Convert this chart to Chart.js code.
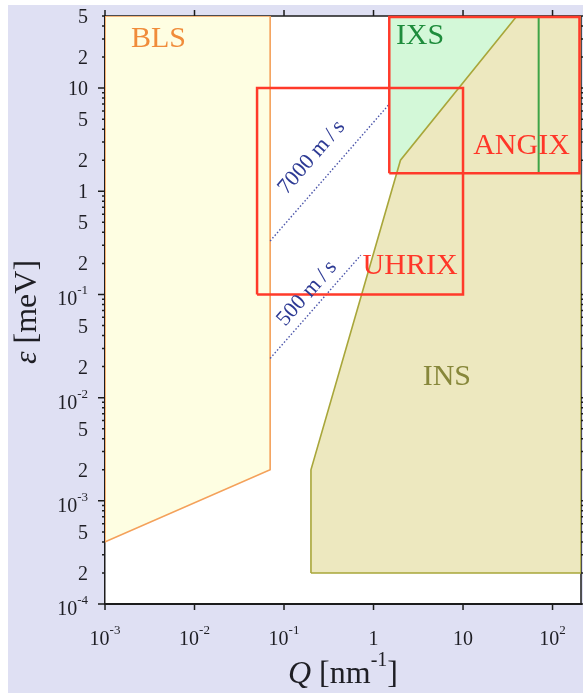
<!DOCTYPE html>
<html>
<head>
<meta charset="utf-8">
<script src="https://cdn.jsdelivr.net/npm/chart.js@4/dist/chart.umd.min.js"></script>
<style>
  html, body { margin: 0; padding: 0; background: #ffffff; }
  canvas { display: block; }
</style>
</head>
<body>
<canvas id="map" width="583" height="693"></canvas>
<script>
// Axis ranges: momentum transfer Q [nm^-1] and energy transfer ε [meV]
const qRange = [1e-3, 208];
const epsRange = [1e-4, 50];

// Brillouin light scattering
const blsQ   = [1e-3, 0.07, 0.07, 1e-3];
const blsEps = [50, 50, 2e-3, 4e-4];

// Inelastic neutron scattering
const insQ   = [0.2, 0.2, 2, 40, 208, 208];
const insEps = [2e-4, 2e-3, 2, 50, 50, 2e-4];

// Inelastic x-ray scattering
const ixsQ   = [1.5, 1.5, 70, 70];
const ixsEps = [1.5, 50, 50, 1.5];
const ixsEdgeQ   = [70, 70];
const ixsEdgeEps = [1.5, 50];

// UHRIX and ANGIX spectrometer windows
const uhrixQ   = [0.05, 10, 10, 0.05];
const uhrixEps = [0.1, 0.1, 10, 10];
const angixQ   = [1.5, 200, 200, 1.5];
const angixEps = [1.5, 1.5, 49, 49];

// Sound-velocity lines
const v7000Q   = [0.07, 1.5];
const v7000Eps = [0.33, 7];
const v500Q    = [0.07, 0.72];
const v500Eps  = [0.024, 0.24];

// Tick labels: [mantissa text, exponent text]
const xTickValues = [1e-3, 1e-2, 1e-1, 1, 10, 100];
const xTickLabels = [['10', '-3'], ['10', '-2'], ['10', '-1'], ['1', ''], ['10', ''], ['10', '2']];
const yTickValues = [1e-4, 2e-4, 5e-4, 1e-3, 2e-3, 5e-3, 1e-2, 2e-2, 5e-2, 0.1, 0.2, 0.5, 1, 2, 5, 10, 20, 50];
const yTickLabels = [['10', '-4'], ['2', ''], ['5', ''], ['10', '-3'], ['2', ''], ['5', ''],
                     ['10', '-2'], ['2', ''], ['5', ''], ['10', '-1'], ['2', ''], ['5', ''],
                     ['1', ''], ['2', ''], ['5', ''], ['10', ''], ['2', ''], ['5', '']];

const SERIF = '"Liberation Serif", "DejaVu Serif", serif';

const toPoints = (q, e) => q.map((x, i) => ({ x, y: e[i] }));
const closed = (q, e) => { const p = toPoints(q, e); p.push({ ...p[0] }); return p; };

// minor ticks 1..9 per decade on the energy axis
const yMinorTicks = [];
for (let d = -4; d <= 1; d++) {
  for (let m = 1; m <= 9; m++) {
    const v = m * Math.pow(10, d);
    if (v <= epsRange[1] * 1.0001) yMinorTicks.push({ v, major: m === 1 });
  }
}

// region labels: [text, Q, ε (baseline), colour]
const regionLabels = [
  ['BLS', 0.00396, 25, '#f08c3a'],
  ['IXS', 3.31, 26.5, '#1e8c3c'],
  ['ANGIX', 45, 2.28, '#ff3628'],
  ['UHRIX', 2.56, 0.159, '#ff3628'],
  ['INS', 6.6, 0.0133, '#87873a']
];
// velocity labels: [text, Q, ε (centre), line Q, line ε]
const velocityLabels = [
  ['7000 m\u2009/\u2009s', 0.204, 2.13, v7000Q, v7000Eps],
  ['500 m\u2009/\u2009s', 0.181, 0.102, v500Q, v500Eps]
];

function drawRich(ctx, parts, x, y, align) {
  let w = 0;
  for (const p of parts) { ctx.font = p.font; p.w = ctx.measureText(p.text).width; w += p.w; }
  let cx = align === 'center' ? x - w / 2 : align === 'right' ? x - w : x;
  ctx.textAlign = 'left';
  ctx.textBaseline = 'alphabetic';
  for (const p of parts) {
    ctx.font = p.font;
    ctx.fillText(p.text, cx, y + (p.dy || 0));
    cx += p.w;
  }
}

function tickParts(label) {
  const parts = [{ text: label[0], font: '20px ' + SERIF }];
  if (label[1]) parts.push({ text: label[1], font: '13px ' + SERIF, dy: -11 });
  return parts;
}

const decor = {
  id: 'decor',
  beforeDraw(chart) {
    const { ctx, chartArea: a } = chart;
    ctx.save();
    ctx.fillStyle = '#ffffff';
    ctx.fillRect(0, 0, chart.width, chart.height);
    ctx.fillStyle = '#dfe0f3';
    ctx.fillRect(8, 5, chart.width - 8, chart.height - 5);
    ctx.fillStyle = '#ffffff';
    ctx.fillRect(a.left, a.top, a.right - a.left, a.bottom - a.top);
    ctx.restore();
  },
  beforeDatasetsDraw(chart) {
    const { ctx, chartArea: a, scales: { x, y } } = chart;
    ctx.save();
    ctx.strokeStyle = '#1c1c1c';
    ctx.lineWidth = 1.5;
    ctx.beginPath();
    ctx.moveTo(a.left, a.top); ctx.lineTo(a.right, a.top);
    ctx.moveTo(a.right, a.top); ctx.lineTo(a.right, a.bottom);
    ctx.stroke();
    ctx.beginPath();
    for (const v of xTickValues) {
      const px = x.getPixelForValue(v);
      ctx.moveTo(px, a.bottom); ctx.lineTo(px, a.bottom + 6);
      ctx.moveTo(px, a.top); ctx.lineTo(px, a.top - 6);
    }
    for (const t of yMinorTicks) {
      const py = y.getPixelForValue(t.v);
      const len = t.major ? 7 : 3;
      ctx.moveTo(a.left, py); ctx.lineTo(a.left - len, py);
      ctx.moveTo(a.right, py); ctx.lineTo(a.right + len, py);
    }
    ctx.stroke();
    ctx.restore();
  },
  afterDatasetsDraw(chart) {
    const { ctx, chartArea: a, scales: { x, y } } = chart;
    ctx.save();
    // tick labels
    ctx.fillStyle = '#1e1e24';
    xTickValues.forEach((v, i) => {
      drawRich(ctx, tickParts(xTickLabels[i]), x.getPixelForValue(v), 645, 'center');
    });
    yTickValues.forEach((v, i) => {
      const lab = yTickLabels[i];
      const py = y.getPixelForValue(v) + (lab[1] ? 11 : 7);
      drawRich(ctx, tickParts(lab), 88, py, 'right');
    });
    // axis titles
    drawRich(ctx, [
      { text: 'Q', font: 'italic 32px ' + SERIF },
      { text: ' [nm', font: '32px ' + SERIF },
      { text: '-1', font: '20px ' + SERIF, dy: -17 },
      { text: ']', font: '32px ' + SERIF }
    ], (a.left + a.right) / 2, 683, 'center');
    ctx.save();
    ctx.translate(36, 312);
    ctx.rotate(-Math.PI / 2);
    drawRich(ctx, [
      { text: 'ε', font: 'italic 32px ' + SERIF },
      { text: ' [meV]', font: '32px ' + SERIF }
    ], 0, 0, 'center');
    ctx.restore();
    // region names
    for (const [text, q, e, color] of regionLabels) {
      ctx.fillStyle = color;
      ctx.font = '30px ' + SERIF;
      ctx.textAlign = 'center';
      ctx.textBaseline = 'alphabetic';
      ctx.fillText(text, x.getPixelForValue(q), y.getPixelForValue(e));
    }
    // velocity labels, parallel to their lines
    for (const [text, q, e, lq, le] of velocityLabels) {
      const dx = x.getPixelForValue(lq[1]) - x.getPixelForValue(lq[0]);
      const dy = y.getPixelForValue(le[1]) - y.getPixelForValue(le[0]);
      ctx.save();
      ctx.translate(x.getPixelForValue(q), y.getPixelForValue(e));
      ctx.rotate(Math.atan2(dy, dx));
      ctx.fillStyle = '#2d3a94';
      ctx.font = '22px ' + SERIF;
      ctx.textAlign = 'center';
      ctx.textBaseline = 'middle';
      ctx.fillText(text, 0, 0);
      ctx.restore();
    }
    ctx.restore();
  }
};

const RED = '#ff3a2a';

new Chart(document.getElementById('map'), {
  type: 'scatter',
  data: {
    datasets: [
      { label: 'ANGIX', data: closed(angixQ, angixEps), borderColor: RED, borderWidth: 2.5, fill: false, order: 1, clip: false },
      { label: 'UHRIX', data: closed(uhrixQ, uhrixEps), borderColor: RED, borderWidth: 2.5, fill: false, order: 2 },
      { label: '7000 m/s', data: toPoints(v7000Q, v7000Eps), borderColor: '#4b55aa', borderWidth: 1.4, borderDash: [1.5, 2], fill: false, order: 3 },
      { label: '500 m/s', data: toPoints(v500Q, v500Eps), borderColor: '#4b55aa', borderWidth: 1.4, borderDash: [1.5, 2], fill: false, order: 3 },
      { label: 'IXS edge', data: toPoints(ixsEdgeQ, ixsEdgeEps), borderColor: '#3ea447', borderWidth: 2, fill: false, order: 4 },
      { label: 'INS', data: closed(insQ, insEps), borderColor: '#a8a63a', backgroundColor: '#ede8bf', borderWidth: 1.6, fill: 'shape', order: 5 },
      { label: 'BLS', data: closed(blsQ, blsEps), borderColor: '#f4a15a', backgroundColor: '#fefee2', borderWidth: 1.6, fill: 'shape', order: 6 },
      { label: 'IXS', data: closed(ixsQ, ixsEps), borderColor: 'rgba(0,0,0,0)', backgroundColor: '#d3f8d8', borderWidth: 0, fill: 'shape', order: 7 }
    ]
  },
  options: {
    responsive: false,
    animation: false,
    events: [],
    showLine: true,
    layout: { padding: { top: 16, right: 2, left: 0, bottom: 0 } },
    elements: { point: { radius: 0, hoverRadius: 0 }, line: { tension: 0 } },
    plugins: { legend: { display: false }, tooltip: { enabled: false } },
    scales: {
      x: {
        type: 'logarithmic', position: 'bottom', min: qRange[0], max: qRange[1],
        ticks: { display: false }, grid: { display: false, drawTicks: false },
        border: { display: true, color: '#1c1c1c', width: 2 },
        afterFit: s => { s.height = 89; }
      },
      y: {
        type: 'logarithmic', position: 'left', min: epsRange[0], max: epsRange[1],
        ticks: { display: false }, grid: { display: false, drawTicks: false },
        border: { display: true, color: '#1c1c1c', width: 1.5 },
        afterFit: s => { s.width = 105; }
      }
    }
  },
  plugins: [decor]
});
</script>
</body>
</html>
